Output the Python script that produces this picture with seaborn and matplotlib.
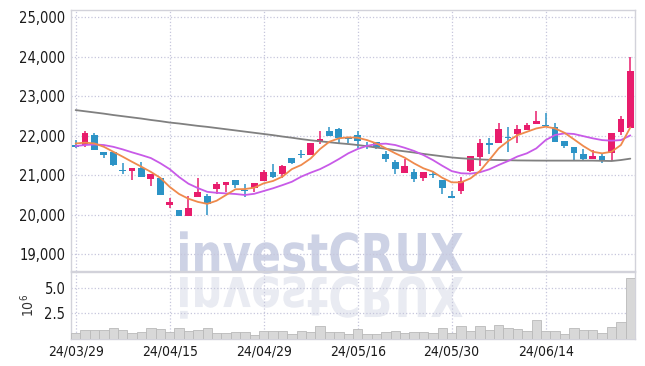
import numpy as np
import seaborn as sns
import matplotlib
matplotlib.use("Agg")
import matplotlib.pyplot as plt
from matplotlib.textpath import TextPath
from matplotlib.patches import PathPatch
from matplotlib.font_manager import FontProperties
from matplotlib.transforms import Affine2D, IdentityTransform
from matplotlib.ticker import FuncFormatter

# OHLC (60 trading days)
opens = [21760, 21760, 22010, 21580, 21575, 21120, 21110, 21180, 20905, 20930,
         20240, 20115, 19970, 20450, 20470, 20655, 20755, 20865, 20605, 20665,
         20855, 21070, 21015, 21430, 21525, 21505, 21845, 22120, 22165, 21970,
         22005, 21760, 21835, 21525, 21330, 21060, 21075, 20915, 21015, 20875,
         20470, 20605, 21100, 21465, 21790, 21800, 21955, 22040, 22140, 22300,
         22250, 22205, 21870, 21710, 21530, 21410, 21480, 21565, 22095, 22195]
highs = [21900, 22115, 22055, 21580, 21580, 21310, 21180, 21320, 21025, 20930,
         20410, 20115, 20460, 20915, 20510, 20815, 20825, 20865, 20765, 20805,
         21125, 21270, 21250, 21430, 21625, 21800, 22115, 22205, 22195, 21970,
         22120, 21845, 21835, 21615, 21370, 21405, 21150, 21070, 21100, 20875,
         20605, 20955, 21480, 21905, 21945, 22310, 22210, 22265, 22315, 22610,
         22575, 22310, 21870, 21710, 21650, 21635, 21565, 22060, 22505, 23980]
lows = [21680, 21700, 21630, 21420, 21235, 21015, 20865, 20960, 20715, 20495,
        20155, 19970, 19970, 20450, 19990, 20510, 20560, 20660, 20450, 20575,
        20855, 20915, 20930, 21270, 21420, 21505, 21790, 21995, 21800, 21800,
        21675, 21650, 21660, 21335, 21025, 21060, 20815, 20855, 20915, 20510,
        20410, 20510, 21070, 21230, 21530, 21800, 21590, 21815, 22140, 22300,
        22205, 21845, 21690, 21380, 21380, 21410, 21310, 21360, 22010, 22195]
closes = [21700, 22055, 21630, 21505, 21255, 21120, 21180, 20960, 21025, 20495,
          20325, 19970, 20155, 20570, 20260, 20770, 20825, 20745, 20605, 20805,
          21070, 20950, 21230, 21310, 21525, 21800, 21910, 21995, 21930, 21905,
          21855, 21700, 21700, 21410, 21160, 21230, 20905, 21070, 21015, 20665,
          20410, 20855, 21480, 21810, 21790, 22165, 21955, 22165, 22265, 22365,
          22250, 21845, 21740, 21565, 21405, 21480, 21360, 22060, 22420, 23640]

# moving averages as drawn on the chart
ma_short = [21800, 21820, 21800, 21715, 21590, 21465, 21335, 21210, 21080, 20930,
            20700, 20520, 20400, 20320, 20270, 20350, 20495, 20640, 20645, 20680,
            20790, 20850, 20960, 21150, 21255, 21420, 21660, 21845, 21930, 21955,
            21945, 21885, 21800, 21675, 21550, 21440, 21295, 21170, 21085, 20930,
            20815, 20815, 20915, 21100, 21380, 21675, 21860, 22010, 22095, 22180,
            22225, 22180, 22070, 21905, 21735, 21590, 21550, 21590, 21760, 22205]
ma_mid = [21735, 21760, 21775, 21760, 21715, 21650, 21575, 21505, 21430, 21300,
          21150, 20950, 20780, 20670, 20575, 20550, 20535, 20520, 20495, 20525,
          20595, 20665, 20745, 20830, 20960, 21060, 21150, 21270, 21405, 21550,
          21660, 21740, 21785, 21795, 21760, 21690, 21610, 21505, 21380, 21235,
          21100, 21045, 21035, 21070, 21145, 21255, 21355, 21470, 21550, 21675,
          21885, 22015, 22055, 22040, 21985, 21930, 21885, 21870, 21885, 22005]
ma_long = [22645, 22615, 22585, 22555, 22520, 22490, 22460, 22430, 22395, 22365,
           22330, 22305, 22275, 22245, 22220, 22190, 22160, 22130, 22100, 22070,
           22040, 22010, 21975, 21945, 21910, 21880, 21855, 21830, 21805, 21785,
           21760, 21730, 21695, 21665, 21630, 21600, 21570, 21535, 21505, 21475,
           21445, 21425, 21410, 21395, 21385, 21380, 21375, 21370, 21368, 21366,
           21365, 21365, 21365, 21365, 21365, 21365, 21360, 21355, 21380, 21415]

# volume in millions
volume = [0.56, 0.85, 0.85, 0.85, 1.05, 0.85, 0.56, 0.68, 1.05, 0.95,
          0.68, 1.05, 0.78, 0.85, 1.05, 0.56, 0.56, 0.68, 0.68, 0.36,
          0.78, 0.78, 0.78, 0.50, 0.78, 0.68, 1.27, 0.68, 0.68, 0.50,
          0.95, 0.50, 0.50, 0.68, 0.78, 0.56, 0.68, 0.68, 0.60, 1.04,
          0.56, 1.27, 0.78, 1.27, 0.85, 1.37, 1.07, 0.95, 0.78, 1.86,
          0.78, 0.78, 0.49, 1.07, 0.88, 0.88, 0.62, 1.17, 1.63, 5.96]

tick_pos = [0, 10, 20, 30, 40, 50]
tick_labels = ["24/03/29", "24/04/15", "24/04/29", "24/05/16", "24/05/30", "24/06/14"]

RED = "#e81c6c"
BLUE = "#2c93c6"
ORANGE = "#ef8a4c"
PURPLE = "#c85ae8"
GREY = "#808080"
GRID = "#c6c6dc"
SPINE = "#d2d2da"

sns.set_theme(style="white")
plt.rcParams["font.family"] = ["DejaVu Sans"]
plt.rcParams["font.stretch"] = "condensed"

fig = plt.figure(figsize=(6.45, 3.66), dpi=100)
fig.patch.set_facecolor("white")
ax = fig.add_axes([0.110, 0.2596, 0.8745, 0.7131])
axv = fig.add_axes([0.110, 0.0738, 0.8745, 0.1830])
for a in (ax, axv):
    a.set_facecolor("none")

# watermark and its reflection, in pixel coordinates
tp = TextPath((0, 0), "investCRUX", size=100,
              prop=FontProperties(family="DejaVu Sans", weight="bold"))
bb = tp.get_extents()
sx = 283 / bb.width
sy = 40 / 72.9
wm = Affine2D().translate(-bb.x0, 0).scale(sx, sy).translate(180, 366 - 273)
rf = Affine2D().translate(-bb.x0, 0).scale(sx, -sy).translate(180, 366 - 277)
fig.add_artist(PathPatch(wm.transform_path(tp), transform=IdentityTransform(),
                         facecolor="#cdd2e5", edgecolor="none", zorder=-2))
fig.add_artist(PathPatch(rf.transform_path(tp), transform=IdentityTransform(),
                         facecolor="#e9ebf2", edgecolor="none", zorder=-2))

# candles
o = np.array(opens, dtype=float)
h = np.array(highs, dtype=float)
l = np.array(lows, dtype=float)
c = np.array(closes, dtype=float)
idx = np.arange(len(c))
cols = np.where(c > o, RED, BLUE)
ax.vlines(idx, l, h, color=cols, lw=1.1, zorder=3)
doji = np.abs(c - o) < 30
body_h = np.where(doji, 35, np.abs(c - o))
body_b = np.where(doji, o - 17, np.minimum(o, c))
ax.bar(idx, body_h, bottom=body_b, width=0.72, color=cols, linewidth=0, zorder=4)

# moving averages
sns.lineplot(x=idx, y=ma_long, ax=ax, color=GREY, lw=1.3, zorder=5)
sns.lineplot(x=idx, y=ma_mid, ax=ax, color=PURPLE, lw=1.3, zorder=5)
sns.lineplot(x=idx, y=ma_short, ax=ax, color=ORANGE, lw=1.3, zorder=6)

ax.set_xlim(-0.5, 59.5)
ax.set_ylim(18570, 25180)
ax.set_yticks(range(19000, 25001, 1000))
ax.yaxis.set_major_formatter(FuncFormatter(lambda v, p: f"{int(v):,}"))
ax.set_xticks(tick_pos)
ax.set_xticklabels([])
ax.set_xlabel("")
ax.set_ylabel("")

# volume panel
sns.barplot(x=idx, y=volume, ax=axv, color="#d8d8d8", edgecolor="#b9b9b9",
            linewidth=0.6, width=1.0, saturation=1, zorder=3)
axv.set_xlim(-0.5, 59.5)
axv.set_ylim(0, 6.55)
axv.set_yticks([2.5, 5.0])
axv.set_yticklabels(["2.5", "5.0"])
axv.set_xticks(tick_pos)
axv.set_xticklabels(tick_labels)
axv.set_xlabel("")
axv.set_ylabel(r"$10^6$", fontsize=10, color="#333333", labelpad=5)

for a in (ax, axv):
    a.grid(True, ls=":", color=GRID, lw=0.9, zorder=0)
    a.set_axisbelow(True)
    a.tick_params(length=0, labelsize=10.5, colors="#1a1a1a")
    a.tick_params(axis="y", pad=4)
    a.tick_params(axis="x", pad=4, labelsize=10)
    for s in a.spines.values():
        s.set_color(SPINE)
        s.set_linewidth(1)
        s.set_visible(True)

plt.savefig("out.png", dpi=100)
